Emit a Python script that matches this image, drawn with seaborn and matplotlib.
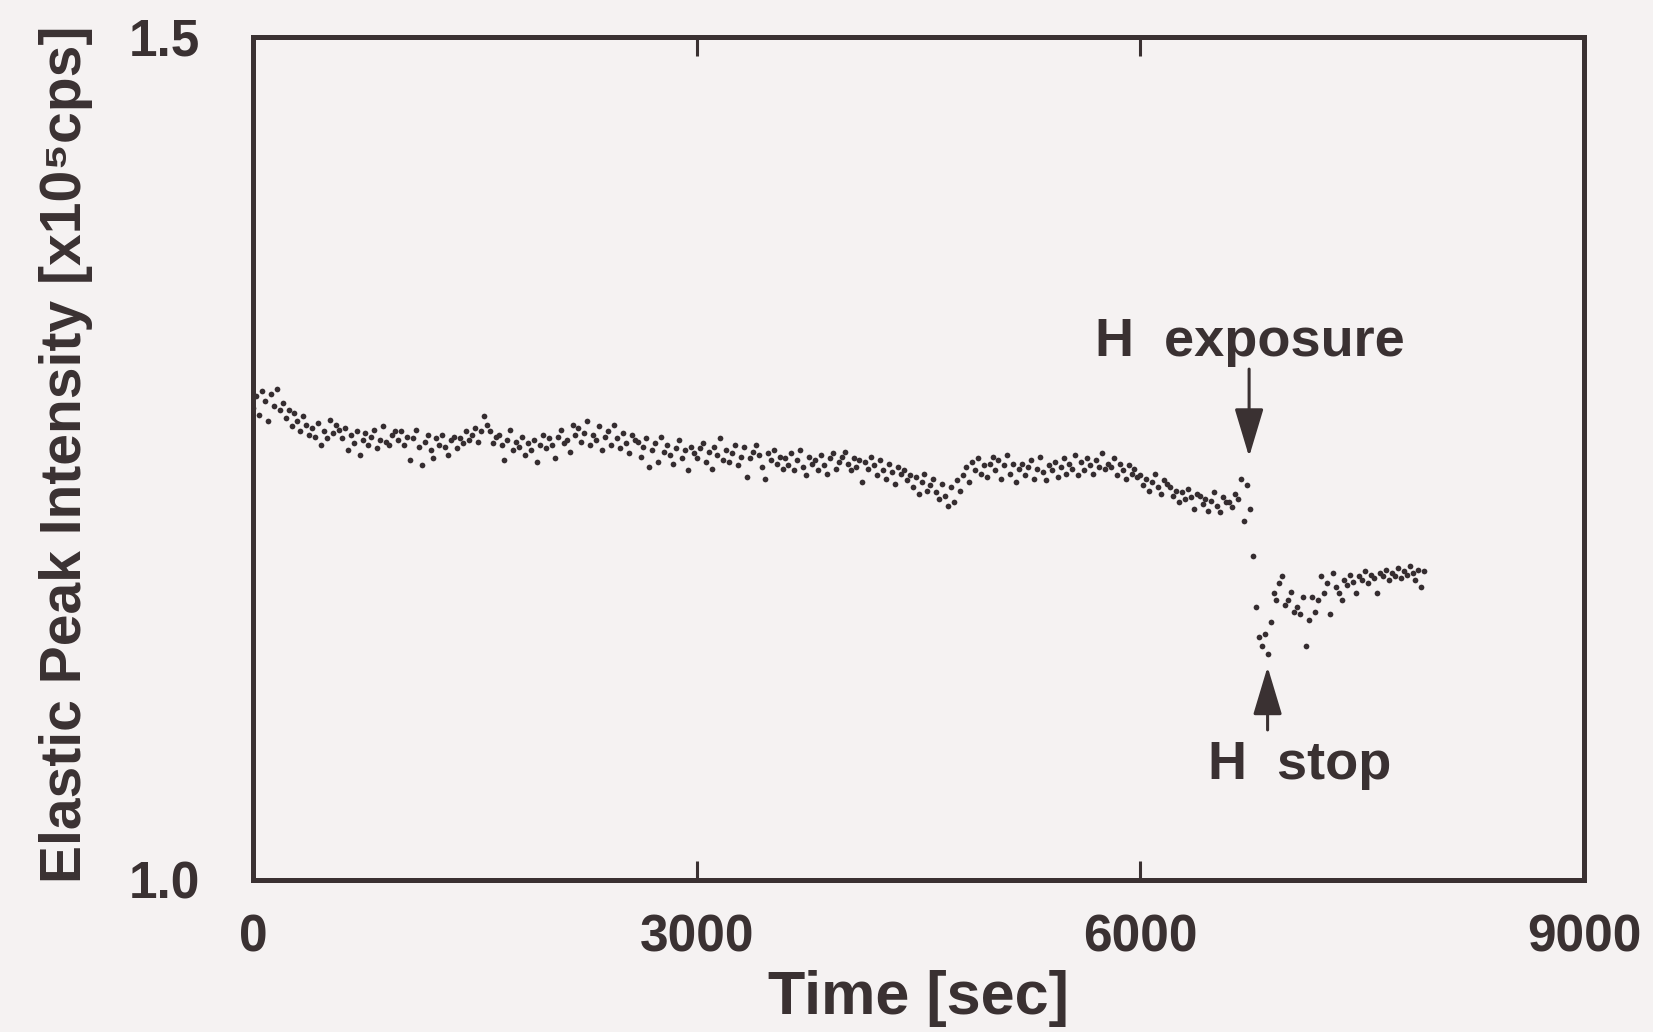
import numpy as np
import pandas as pd
import matplotlib
matplotlib.use("Agg")
import matplotlib.pyplot as plt
import seaborn as sns

# ---------------- data ----------------
SAMPLE_STEP = 20  # seconds between recorded points

# before and during early H exposure: t = 0, 20, 40, ... 6680 s
pre_start = 0
pre_vals = [
    1.280, 1.287, 1.276, 1.290, 1.284, 1.272, 1.288, 1.281, 1.291, 1.279,
    1.283, 1.274, 1.279, 1.269, 1.277, 1.272, 1.266, 1.275, 1.270, 1.264,
    1.268, 1.263, 1.271, 1.258, 1.266, 1.262, 1.273, 1.265, 1.270, 1.267,
    1.262, 1.268, 1.255, 1.264, 1.259, 1.266, 1.252, 1.261, 1.265, 1.258,
    1.263, 1.267, 1.256, 1.261, 1.269, 1.260, 1.258, 1.264, 1.266, 1.261,
    1.266, 1.258, 1.263, 1.249, 1.262, 1.267, 1.257, 1.246, 1.260, 1.264,
    1.255, 1.250, 1.262, 1.258, 1.264, 1.257, 1.252, 1.261, 1.263, 1.256,
    1.262, 1.259, 1.266, 1.261, 1.264, 1.268, 1.260, 1.266, 1.275, 1.270,
    1.266, 1.259, 1.263, 1.264, 1.258, 1.249, 1.261, 1.267, 1.255, 1.260,
    1.257, 1.263, 1.252, 1.259, 1.255, 1.261, 1.248, 1.258, 1.264, 1.256,
    1.262, 1.258, 1.250, 1.263, 1.267, 1.259, 1.261, 1.254, 1.270, 1.264,
    1.268, 1.260, 1.265, 1.272, 1.258, 1.264, 1.261, 1.269, 1.255, 1.263,
    1.266, 1.258, 1.270, 1.262, 1.256, 1.265, 1.259, 1.253, 1.264, 1.261,
    1.260, 1.251, 1.257, 1.262, 1.245, 1.255, 1.259, 1.248, 1.263, 1.254,
    1.258, 1.252, 1.247, 1.256, 1.261, 1.250, 1.255, 1.243, 1.257, 1.253,
    1.250, 1.256, 1.259, 1.248, 1.254, 1.244, 1.257, 1.252, 1.262, 1.249,
    1.255, 1.248, 1.253, 1.258, 1.246, 1.251, 1.257, 1.239, 1.250, 1.254,
    1.258, 1.252, 1.245, 1.238, 1.253, 1.249, 1.255, 1.247, 1.251, 1.244,
    1.250, 1.246, 1.253, 1.243, 1.249, 1.255, 1.245, 1.240, 1.251, 1.247,
    1.249, 1.243, 1.252, 1.246, 1.241, 1.250, 1.253, 1.244, 1.248, 1.251,
    1.254, 1.247, 1.243, 1.250, 1.245, 1.249, 1.236, 1.248, 1.244, 1.251,
    1.246, 1.240, 1.249, 1.243, 1.238, 1.247, 1.242, 1.235, 1.245, 1.241,
    1.243, 1.237, 1.240, 1.233, 1.239, 1.229, 1.236, 1.241, 1.231, 1.234,
    1.238, 1.230, 1.226, 1.235, 1.228, 1.222, 1.233, 1.224, 1.237, 1.231,
    1.240, 1.245, 1.236, 1.248, 1.243, 1.250, 1.241, 1.246, 1.239, 1.247,
    1.251, 1.243, 1.249, 1.238, 1.246, 1.252, 1.241, 1.247, 1.236, 1.244,
    1.247, 1.240, 1.245, 1.249, 1.238, 1.244, 1.251, 1.242, 1.237, 1.246,
    1.243, 1.248, 1.239, 1.245, 1.250, 1.241, 1.247, 1.244, 1.252, 1.240,
    1.248, 1.243, 1.250, 1.246, 1.241, 1.249, 1.245, 1.253, 1.244, 1.247,
    1.245, 1.250, 1.240, 1.247, 1.243, 1.238, 1.246, 1.241, 1.244, 1.239,
    1.240, 1.234, 1.238, 1.231, 1.236, 1.241, 1.233, 1.229, 1.237, 1.235,
    1.233, 1.228, 1.231, 1.224, 1.230, 1.226, 1.232, 1.227, 1.220, 1.229,
    1.228, 1.223, 1.226, 1.219, 1.225, 1.230, 1.222, 1.218, 1.227, 1.224,
    1.224, 1.221, 1.229, 1.226, 1.238,
]

# sharp drop right after H exposure
drop_times = [6700, 6720, 6740, 6760, 6780, 6800, 6820, 6840, 6860]
drop_vals = [1.213, 1.234, 1.220, 1.192, 1.162, 1.144, 1.139, 1.146, 1.134]

# recovery after H stop: t = 6880, 6900, ... 7920 s
post_start = 6880
post_vals = [
    1.153, 1.170, 1.166, 1.176, 1.180, 1.163, 1.166, 1.171, 1.159, 1.162,
    1.158, 1.168, 1.139, 1.154, 1.168, 1.159, 1.166, 1.180, 1.170, 1.176,
    1.158, 1.182, 1.174, 1.170, 1.166, 1.178, 1.175, 1.181, 1.177, 1.170,
    1.180, 1.178, 1.183, 1.176, 1.181, 1.179, 1.170, 1.182, 1.180, 1.184,
    1.178, 1.182, 1.180, 1.185, 1.179, 1.183, 1.181, 1.186, 1.182, 1.178,
    1.184, 1.174, 1.183,
]

x_ticks = [0, 3000, 6000, 9000]
x_ticklabels = ["0", "3000", "6000", "9000"]
y_ticks = [1.0, 1.5]
y_ticklabels = ["1.0", "1.5"]

exposure_time = 6735
stop_time = 6860

# ---------------- style ----------------
BG = "#f5f2f2"
INK = "#3a3132"
DOT = "#352d30"

sns.set_theme(style="white")
plt.rcParams["font.family"] = ["Liberation Sans", "DejaVu Sans"]

t_pre = pre_start + SAMPLE_STEP * np.arange(len(pre_vals))
t_post = post_start + SAMPLE_STEP * np.arange(len(post_vals))
df = pd.DataFrame({
    "time": np.concatenate([t_pre, drop_times, t_post]),
    "intensity": np.concatenate([pre_vals, drop_vals, post_vals]),
})

fig = plt.figure(figsize=(16.53, 10.32), dpi=100, facecolor=BG)
ax = fig.add_axes([0.1531, 0.1473, 0.8052, 0.8169])
ax.set_facecolor(BG)

sns.scatterplot(data=df, x="time", y="intensity", s=17, color=DOT,
                linewidth=0, ax=ax, legend=False)

ax.set_xlim(0, 9000)
ax.set_ylim(1.0, 1.5)

for sp in ax.spines.values():
    sp.set_linewidth(3.6)
    sp.set_color(INK)

ax.set_xticks(x_ticks)
ax.set_xticklabels(x_ticklabels, fontweight="bold", fontsize=37, color=INK)
ax.set_yticks(y_ticks)
ax.set_yticklabels(y_ticklabels, fontweight="bold", fontsize=37, color=INK)
ax.tick_params(axis="x", direction="in", length=14, width=2.2, color=INK,
               top=True, bottom=True, pad=24)
ax.tick_params(axis="y", direction="in", length=0, pad=38)

ax.set_xlabel("Time [sec]", fontweight="bold", fontsize=44, color=INK)
ax.set_ylabel("Elastic Peak Intensity [x10\u2075cps]",
              fontweight="bold", fontsize=41, color=INK)
ax.xaxis.set_label_coords(0.5, -0.14)
ax.yaxis.set_label_coords(-0.1405, 0.505)
ax.xaxis.label.set_va("center")
ax.yaxis.label.set_va("center")

arrow_kw = dict(arrowstyle="-|>,head_length=3,head_width=0.9", mutation_scale=10,
                lw=2.2, color=INK, shrinkA=0, shrinkB=0)
ax.annotate("", xy=(exposure_time, 1.251), xytext=(exposure_time, 1.303),
            arrowprops=arrow_kw)
ax.text(6743, 1.311, "H  exposure", ha="center", va="baseline",
        fontsize=39, fontweight="bold", color=INK)

ax.annotate("", xy=(stop_time, 1.1265), xytext=(stop_time, 1.089),
            arrowprops=arrow_kw)
ax.text(7080, 1.060, "H  stop", ha="center", va="baseline",
        fontsize=39, fontweight="bold", color=INK)

fig.savefig("out.png", dpi=100, facecolor=BG)
